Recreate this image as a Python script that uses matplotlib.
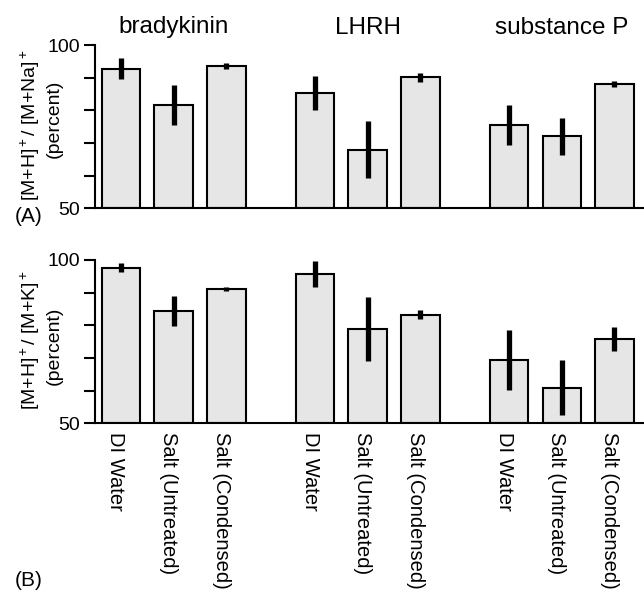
import matplotlib
matplotlib.use("Agg")
import matplotlib.pyplot as plt
import matplotlib.transforms as mtransforms
import numpy as np

plt.rcParams['font.family'] = ['Liberation Sans', 'DejaVu Sans']
plt.rcParams['mathtext.fontset'] = 'custom'
plt.rcParams['mathtext.rm'] = 'Liberation Sans'
plt.rcParams['mathtext.it'] = 'Liberation Sans'
plt.rcParams['mathtext.bf'] = 'Liberation Sans'

peptides = ["bradykinin", "LHRH", "substance P"]
conditions = ["DI Water", "Salt (Untreated)", "Salt (Condensed)"]

# Panel A: [M+H]+ / [M+Na]+ (percent)
na_values = [92.7, 81.6, 93.6,   85.2, 67.9, 90.1,   75.5, 72.0, 88.0]
na_errors = [3.2, 6.2, 1.0,      5.2, 8.7, 1.3,      6.0, 5.8, 0.9]
# Panel B: [M+H]+ / [M+K]+ (percent)
k_values = [97.7, 84.3, 91.1,    95.7, 79.0, 83.3,   69.5, 60.9, 75.8]
k_errors = [1.5, 4.6, 0.7,       4.0, 9.8, 1.4,      9.2, 8.4, 3.6]

W, H = 644, 590
fig = plt.figure(figsize=(W / 100, H / 100), dpi=100)

group_gap = 3.68
positions = [g * group_gap + i for g in range(len(peptides)) for i in range(len(conditions))]
labels = conditions * len(peptides)

def px_axes(left, top, right, bottom):
    return fig.add_axes([left / W, 1 - bottom / H, (right - left) / W, (bottom - top) / H])

axA = px_axes(95, 45, 644, 208.3)
axB = px_axes(95, 260, 644, 423.3)

for ax, vals, errs in [(axA, na_values, na_errors), (axB, k_values, k_errors)]:
    ax.bar(positions, np.array(vals) - 50, bottom=50, width=0.73, color='#e6e6e6',
           edgecolor='black', linewidth=1.5, zorder=2)
    ax.errorbar(positions, vals, yerr=errs, fmt='none', ecolor='black',
                elinewidth=3.8, capsize=0, zorder=3)
    ax.set_ylim(50, 100)
    ax.set_xlim(-0.493, 9.92)
    ax.set_yticks([50, 100])
    ax.set_yticks([60, 70, 80, 90], minor=True)
    ax.tick_params(axis='y', which='both', direction='out', length=8, width=1.5,
                   labelsize=14, pad=3)
    ax.spines['top'].set_visible(False)
    ax.spines['right'].set_visible(False)
    ax.spines['left'].set_linewidth(1.5)
    ax.spines['bottom'].set_linewidth(1.5)
    ax.set_facecolor('none')

axA.set_xticks([])
axB.set_xticks(positions)
axB.set_xticklabels(labels, rotation=270, fontsize=14.5, ha='center', va='top')
axB.tick_params(axis='x', length=0, pad=6)
offset = mtransforms.ScaledTranslation(-5 / 100, 0, fig.dpi_scale_trans)
for lab in axB.get_xticklabels():
    lab.set_transform(lab.get_transform() + offset)

# Titles above middle bars
trans = mtransforms.blended_transform_factory(axA.transData, fig.transFigure)
for g, name in enumerate(peptides):
    axA.text(g * group_gap + 1, 1 - 33.5 / H, name, transform=trans, ha='center',
             va='baseline', fontsize=17.5)

# Y labels
fig.text(30 / W, 1 - 125 / H, r'[M+H]$^+$/ [M+Na]$^+$', rotation=90, ha='center',
         va='center', fontsize=14)
fig.text(54 / W, 1 - 119 / H, '(percent)', rotation=90, ha='center', va='center', fontsize=14)
fig.text(30 / W, 1 - 340 / H, r'[M+H]$^+$/ [M+K]$^+$', rotation=90, ha='center',
         va='center', fontsize=14)
fig.text(54 / W, 1 - 346 / H, '(percent)', rotation=90, ha='center', va='center', fontsize=14)

fig.text(29 / W, 1 - 217 / H, '(A)', ha='center', va='center', fontsize=15)
fig.text(29 / W, 1 - 580 / H, '(B)', ha='center', va='center', fontsize=15)

fig.savefig('out.png', dpi=100)
